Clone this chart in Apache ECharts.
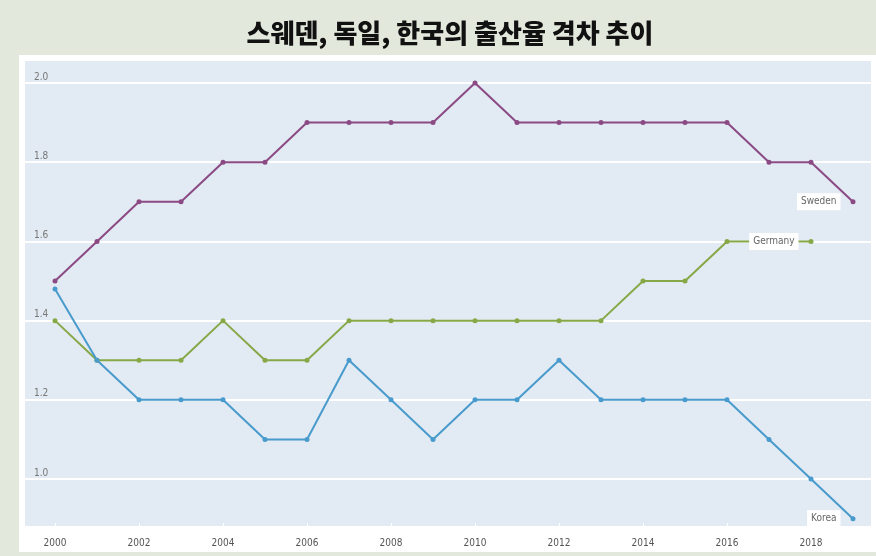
<!DOCTYPE html>
<html>
<head>
<meta charset="utf-8">
<script src="https://cdn.jsdelivr.net/npm/echarts@6/dist/echarts.min.js"></script>
<style>
  html, body { margin: 0; padding: 0; background: #e3e8dc; }
  #chart { width: 876px; height: 556px; }
</style>
</head>
<body>
<div id="chart"></div>
<script>
var years = ['2000','2001','2002','2003','2004','2005','2006','2007','2008','2009',
             '2010','2011','2012','2013','2014','2015','2016','2017','2018','2019'];
var sweden  = [1.5, 1.6, 1.7, 1.7, 1.8, 1.8, 1.9, 1.9, 1.9, 1.9, 2.0, 1.9, 1.9, 1.9, 1.9, 1.9, 1.9, 1.8, 1.8, 1.7];
var germany = [1.4, 1.3, 1.3, 1.3, 1.4, 1.3, 1.3, 1.4, 1.4, 1.4, 1.4, 1.4, 1.4, 1.4, 1.5, 1.5, 1.6, 1.6, 1.6];
var korea   = [1.48, 1.3, 1.2, 1.2, 1.2, 1.1, 1.1, 1.3, 1.2, 1.1, 1.2, 1.2, 1.3, 1.2, 1.2, 1.2, 1.2, 1.1, 1.0, 0.9];
var yMin = 0.879, yMax = 2.058;

var smallFont = '"DejaVu Sans Condensed", "Roboto", sans-serif';

var chart = echarts.init(document.getElementById('chart'));

// 마지막 점에만 라벨 붙이기
function withEndLabel(values, name) {
  return values.map(function (v, i) {
    if (i !== values.length - 1) return v;
    return {
      value: v,
      label: {
        show: true,
        position: 'left',
        distance: 10,
        formatter: name,
        backgroundColor: '#fff',
        padding: [4, 4, 3, 4],
        color: '#666',
        fontSize: 10,
        fontFamily: smallFont
      }
    };
  });
}

function line(name, values, color) {
  return {
    name: name,
    type: 'line',
    xAxisIndex: 1,
    yAxisIndex: 1,
    data: withEndLabel(values, name),
    symbol: 'circle',
    symbolSize: 5,
    lineStyle: { color: color, width: 2 },
    itemStyle: { color: color },
    silent: true,
    z: 3
  };
}

var option = {
  backgroundColor: '#e3e8dc',
  animation: false,
  title: {
    text: '스웨덴, 독일, 한국의 출산율 격차 추이',
    left: 445,
    textAlign: 'center',
    top: 15,
    textStyle: {
      fontFamily: 'Noto Sans CJK KR',
      fontWeight: 900,
      fontSize: 26,
      color: '#111'
    }
  },
  graphic: [{
    type: 'rect',
    shape: { x: 19, y: 55, width: 857, height: 497 },
    style: { fill: '#fff' },
    z: -10
  }],
  grid: [
    { left: 25, right: 5, top: 60, bottom: 29, show: true, backgroundColor: '#e2eaf3', borderWidth: 0 },
    { left: 55, right: 23, top: 60, bottom: 29 }
  ],
  xAxis: [
    { gridIndex: 0, type: 'value', show: false, min: 0, max: 1 },
    {
      gridIndex: 1,
      type: 'category',
      data: years,
      boundaryGap: false,
      axisLine: { show: false },
      axisTick: { show: true, inside: true, length: 4, interval: 1, lineStyle: { color: '#fff', width: 1 } },
      axisLabel: { interval: 1, margin: 11, color: '#555', fontSize: 10, fontFamily: smallFont },
      splitLine: { show: false }
    }
  ],
  yAxis: [
    {
      gridIndex: 0,
      type: 'value',
      min: yMin,
      max: yMax,
      splitNumber: 6,
      axisLine: { show: false },
      axisTick: { show: false },
      axisLabel: {
        inside: true,
        margin: 9,
        showMinLabel: false,
        showMaxLabel: false,
        verticalAlign: 'bottom',
        padding: [0, 0, 1, 0],
        color: '#777',
        fontSize: 10,
        fontFamily: smallFont,
        formatter: function (v) { return v.toFixed(1); }
      },
      splitLine: { show: true, lineStyle: { color: '#fff', width: 2 } }
    },
    { gridIndex: 1, type: 'value', min: yMin, max: yMax, show: false, splitLine: { show: false } }
  ],
  series: [
    line('Sweden', sweden, '#8b4a84'),
    line('Germany', germany, '#86a846'),
    line('Korea', korea, '#489bcc')
  ]
};

chart.setOption(option);
</script>
</body>
</html>
